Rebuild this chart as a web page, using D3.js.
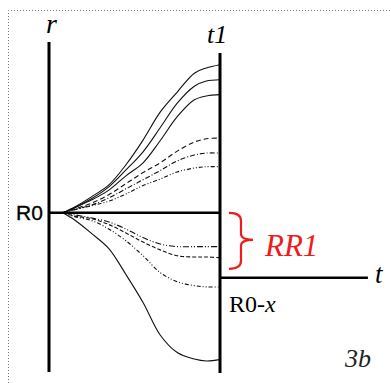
<!DOCTYPE html>
<html>
<head>
<meta charset="utf-8">
<script src="https://cdn.jsdelivr.net/npm/d3@7"></script>
<style>
  html, body { margin: 0; padding: 0; background: #fff; }
  svg { display: block; }
</style>
</head>
<body>
<svg id="chart" width="391" height="383"></svg>
<script>
// Time samples (t1 = 100) and radius relative to R0 (R0 = 0, R0-x = -1)
const tSamples = [8, 15, 25, 35, 45, 55, 65, 75, 85, 92, 100];

const upperSeries = [
  [0, 0.09, 0.25, 0.43, 0.74, 1.12, 1.55, 1.86, 2.15, 2.23, 2.28],
  [0, 0.08, 0.22, 0.40, 0.66, 0.94, 1.31, 1.69, 1.95, 2.03, 2.05],
  [0, 0.08, 0.20, 0.35, 0.57, 0.77, 1.11, 1.48, 1.74, 1.80, 1.82],
  [0, 0.06, 0.15, 0.28, 0.45, 0.62, 0.77, 0.95, 1.09, 1.14, 1.15],
  [0, 0.05, 0.12, 0.23, 0.37, 0.51, 0.65, 0.80, 0.89, 0.92, 0.92],
  [0, 0.05, 0.11, 0.18, 0.29, 0.42, 0.52, 0.63, 0.69, 0.71, 0.71]
];
const lowerSeries = [
  [0, -0.03, -0.08, -0.14, -0.25, -0.38, -0.48, -0.52, -0.52, -0.52, -0.52],
  [0, -0.05, -0.09, -0.18, -0.31, -0.45, -0.57, -0.66, -0.68, -0.68, -0.69],
  [0, -0.06, -0.12, -0.25, -0.43, -0.66, -0.92, -1.06, -1.12, -1.14, -1.14],
  [0, -0.11, -0.32, -0.55, -0.95, -1.38, -1.88, -2.15, -2.25, -2.28, -2.26]
];
const upperDash = [null, null, null, "5,3", "5,2,1,2", "4,2,1,2,1,2"];
const lowerDash = ["6,2,1,2,1,2", "4,2", "4,2,1,2,1,2", null];

const R0 = 0, R0x = -1, T1 = 100, Tmax = 186.5;

const svg = d3.select("#chart");
const x = d3.scaleLinear().domain([0, 100]).range([49, 220]);
const y = d3.scaleLinear().domain([-2.45, 2.63]).range([372, 42]);

// dotted frame
svg.append("path")
  .attr("d", "M8.5,383 V10.5 H391")
  .attr("fill", "none").attr("stroke", "#777").attr("stroke-width", 1)
  .attr("stroke-dasharray", "1,2");

const line = d3.line()
  .x((d, i) => x(tSamples[i]))
  .y(d => y(d))
  .curve(d3.curveCatmullRom.alpha(0.5));

const curves = svg.append("g").attr("fill", "none").attr("stroke", "#111").attr("stroke-width", 1.1);
upperSeries.concat(lowerSeries).forEach((s, i) => {
  const dash = i < upperSeries.length ? upperDash[i] : lowerDash[i - upperSeries.length];
  curves.append("path").attr("d", line(s)).attr("stroke-dasharray", dash);
});

// axes
const axes = svg.append("g").attr("stroke", "#000");
axes.append("line").attr("x1", x(0)).attr("x2", x(0)).attr("y1", y(2.63)).attr("y2", y(-2.45)).attr("stroke-width", 3);
axes.append("line").attr("x1", x(T1)).attr("x2", x(T1)).attr("y1", 53).attr("y2", 373).attr("stroke-width", 3);
axes.append("line").attr("x1", x(0)).attr("x2", x(T1)).attr("y1", y(R0)).attr("y2", y(R0)).attr("stroke-width", 2.5);
axes.append("line").attr("x1", x(T1)).attr("x2", x(Tmax)).attr("y1", y(R0x)).attr("y2", y(R0x)).attr("stroke-width", 2.5);

// labels
const SERIF = '"Liberation Serif"', SANS = '"Liberation Sans"';
function label(fam, px, py, size, txt, italic) {
  const t = svg.append("text").attr("x", px).attr("y", py)
    .style("font-family", fam).style("font-size", size + "px").text(txt);
  if (italic) t.style("font-style", "italic");
  return t;
}
label(SERIF, 46, 33, 28, "r", true);
label(SERIF, 207, 43, 26, "t1", true);
label(SERIF, 375, 283, 27, "t", true);
label(SANS, 16, 220, 21, "R0", false).style("stroke", "#000").style("stroke-width", 0.3);
const rx = label(SERIF, 229, 312, 24, "R0-", false);
rx.append("tspan").style("font-style", "italic").text("x");
label(SERIF, 345, 367, 26, "3b", true).attr("fill", "#222");

// red brace spanning R0 .. RR1 level
const bTop = y(R0), bBot = y(R0x) - 9, bMid = (bTop + bBot) / 2 - 1;
const bx = 229;
svg.append("path")
  .attr("d", `M${bx},${bTop} Q${bx + 12},${bTop} ${bx + 12},${bTop + 8} V${bMid - 6} Q${bx + 12},${bMid} ${bx + 24},${bMid}` +
             ` Q${bx + 12},${bMid} ${bx + 12},${bMid + 6} V${bBot - 8} Q${bx + 12},${bBot} ${bx},${bBot}`)
  .attr("fill", "none").attr("stroke", "#ee1c1c").attr("stroke-width", 2.2);
label(SERIF, 265, 256, 31, "RR1", true).attr("fill", "#ee1c1c");
</script>
</body>
</html>
